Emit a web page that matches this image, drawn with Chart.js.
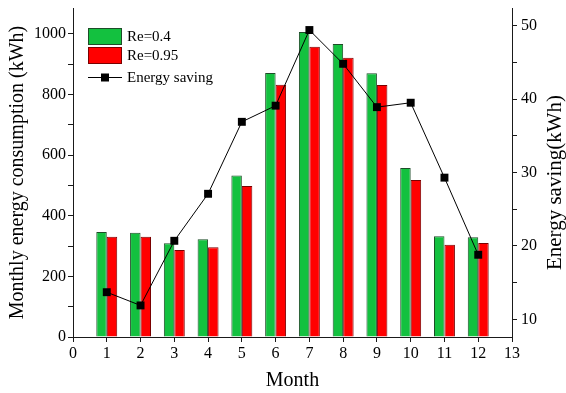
<!DOCTYPE html>
<html>
<head>
<meta charset="utf-8">
<script src="https://cdn.jsdelivr.net/npm/chart.js@4.4.0/dist/chart.umd.min.js"></script>
<style>
    html, body { margin: 0; padding: 0; background: #fff; }
    #wrap { width: 566px; height: 393px; }
</style>
</head>
<body>
<div id="wrap"><canvas id="chart" width="566" height="393"></canvas></div>
<script>
// ─── Data ────────────────────────────────────────────────────────────────
const months        = [1, 2, 3, 4, 5, 6, 7, 8, 9, 10, 11, 12];
const consumption04  = [346, 344, 309, 322, 533, 871, 1006, 966, 870, 557, 332, 329];
const consumption095 = [331, 331, 287, 296, 498, 832, 957, 921, 831, 518, 304, 310];
const energySaving   = [13.7, 11.9, 20.7, 27.1, 36.9, 39.1, 49.4, 44.8, 38.9, 39.5, 29.3, 18.8];

const xTicks     = [0, 1, 2, 3, 4, 5, 6, 7, 8, 9, 10, 11, 12, 13];
const leftTicks  = [0, 100, 200, 300, 400, 500, 600, 700, 800, 900, 1000];
const rightTicks = [10, 15, 20, 25, 30, 35, 40, 45, 50];

const FONT = "'Liberation Serif', 'Times New Roman', serif";
const AXIS = '#1a1a1a';

const toPoints = (vals) => months.map((m, i) => ({ x: m, y: vals[i] }));
const fixTicks = (list) => (scale) => { scale.ticks = list.map(v => ({ value: v })); };

// side boxes: fixed width, plot top at 8px
const fitSide = (w) => (s) => {
    s.width = w;
    s.paddingTop = 8;
    s.paddingBottom = 0;
};

// ─── Legend inside plot + right axis title (reads bottom to top) ─────────
const extras = {
    id: 'extras',
    afterDraw(chart) {
        const ctx = chart.ctx;
        const a = chart.chartArea;
        const bx = a.left + 15, bw = 34, bh = 17;
        const ds = chart.data.datasets;
        ctx.save();
        ctx.font = `15px ${FONT}`;
        ctx.textBaseline = 'middle';
        ctx.textAlign = 'left';

        // bar entries
        [ds[1], ds[2]].forEach((d, i) => {
            const by = a.top + 20 + i * 19;
            ctx.fillStyle = d.backgroundColor;
            ctx.fillRect(bx, by, bw, bh);
            ctx.strokeStyle = d.borderColor;
            ctx.lineWidth = 1;
            ctx.strokeRect(bx + 0.5, by + 0.5, bw - 1, bh - 1);
            ctx.fillStyle = '#000';
            ctx.fillText(d.label, bx + bw + 5, by + bh / 2 + 1);
        });

        // line entry
        const ly = a.top + 69;
        ctx.strokeStyle = '#000';
        ctx.beginPath();
        ctx.moveTo(bx, ly + 0.5);
        ctx.lineTo(bx + bw, ly + 0.5);
        ctx.stroke();
        ctx.fillStyle = '#000';
        ctx.fillRect(bx + bw / 2 - 4, ly - 3.5, 8, 8);
        ctx.fillText(ds[0].label, bx + bw + 5, ly + 1);

        // right axis title
        ctx.font = `21px ${FONT}`;
        ctx.textAlign = 'center';
        ctx.translate(555, (a.top + a.bottom) / 2 + 10);
        ctx.rotate(-Math.PI / 2);
        ctx.fillText('Energy saving(kWh)', 0, 0);
        ctx.restore();
    }
};

new Chart(document.getElementById('chart'), {
    type: 'bar',
    data: {
        datasets: [
            {
                type: 'line',
                label: 'Energy saving',
                data: toPoints(energySaving),
                yAxisID: 'y2',
                order: 0,
                borderColor: '#000',
                borderWidth: 1,
                tension: 0,
                pointStyle: 'rect',
                pointRadius: 5.6,
                pointBackgroundColor: '#000',
                pointBorderColor: '#000',
                pointBorderWidth: 0
            },
            {
                label: 'Re=0.4',
                data: toPoints(consumption04),
                yAxisID: 'y',
                order: 1,
                backgroundColor: '#13c13f',
                borderColor: '#1d4d28',
                borderWidth: 1,
                categoryPercentage: 0.62,
                barPercentage: 1
            },
            {
                label: 'Re=0.95',
                data: toPoints(consumption095),
                yAxisID: 'y',
                order: 1,
                backgroundColor: '#ff0000',
                borderColor: '#7a0000',
                borderWidth: 1,
                categoryPercentage: 0.62,
                barPercentage: 1
            }
        ]
    },
    options: {
        responsive: false,
        animation: false,
        layout: { padding: 0 },
        plugins: {
            legend: { display: false },
            tooltip: { enabled: false }
        },
        scales: {
            x: {
                type: 'linear',
                min: 0,
                max: 13,
                offset: false,
                grid: { offset: false, drawOnChartArea: false, color: AXIS, tickLength: 5 },
                border: { color: AXIS, width: 1 },
                afterBuildTicks: fixTicks(xTicks),
                afterFit: (s) => { s.height = 56; s.paddingLeft = 0; s.paddingRight = 0; },
                ticks: { color: '#000', font: { family: FONT, size: 16 }, padding: 2, maxRotation: 0 },
                title: {
                    display: true,
                    text: 'Month',
                    color: '#000',
                    font: { family: FONT, size: 20, lineHeight: 1 },
                    padding: { top: 0, bottom: 2 }
                }
            },
            y: {
                position: 'left',
                min: 0,
                max: 1085,
                grid: { drawOnChartArea: false, color: AXIS, tickLength: 5 },
                border: { color: AXIS, width: 1 },
                afterBuildTicks: fixTicks(leftTicks),
                afterFit: fitSide(73),
                ticks: {
                    color: '#000',
                    font: { family: FONT, size: 16 },
                    padding: 2,
                    callback: (v) => (v % 200 === 0 ? v : '')
                },
                title: {
                    display: true,
                    text: 'Monthly energy consumption (kWh)',
                    color: '#000',
                    font: { family: FONT, size: 20, lineHeight: 1 },
                    padding: { top: 8, bottom: 0 }
                }
            },
            y2: {
                position: 'right',
                min: 7.6,
                max: 52.4,
                grid: { drawOnChartArea: false, color: AXIS, tickLength: 5 },
                border: { color: AXIS, width: 1 },
                afterBuildTicks: fixTicks(rightTicks),
                afterFit: fitSide(54),
                ticks: {
                    color: '#000',
                    font: { family: FONT, size: 16 },
                    padding: 4,
                    callback: (v) => (v % 10 === 0 ? v : '')
                },
                title: { display: false }
            }
        }
    },
    plugins: [extras]
});
</script>
</body>
</html>
